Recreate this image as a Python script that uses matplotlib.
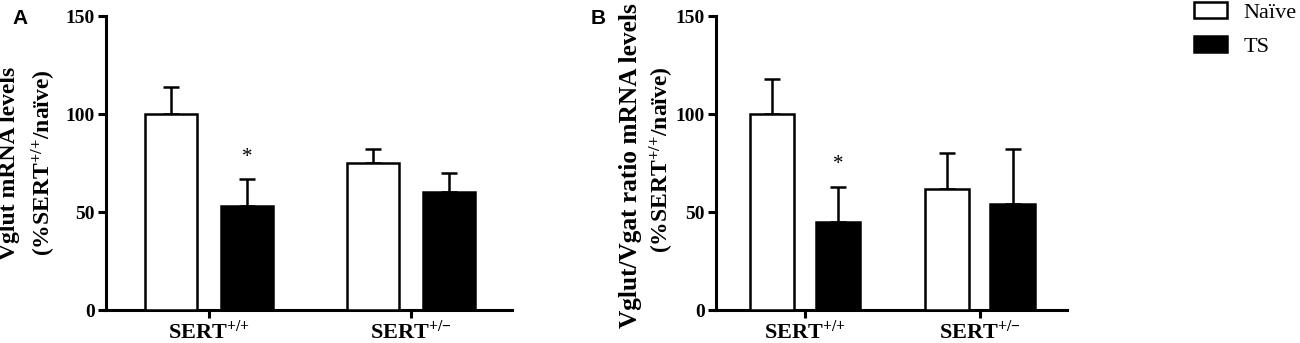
import numpy as np
import matplotlib.pyplot as plt
from matplotlib.patches import Patch

plt.rcParams['font.family'] = ['Liberation Serif', 'DejaVu Serif']
plt.rcParams['font.weight'] = 'bold'
plt.rcParams['mathtext.fontset'] = 'custom'
plt.rcParams['mathtext.rm'] = 'Liberation Serif:bold'
plt.rcParams['mathtext.bf'] = 'Liberation Serif:bold'
plt.rcParams['mathtext.it'] = 'Liberation Serif:bold:italic'

# data
groups = ['SERT$^{{+}/{+}}$', 'SERT$^{{+}/{-}}$']
legend_labels = ['Naïve', 'TS']

vglut_naive = [100, 75]
vglut_naive_err = [14, 7]
vglut_ts = [53, 60]
vglut_ts_err = [14, 10]

ratio_naive = [100, 62]
ratio_naive_err = [18, 18]
ratio_ts = [45, 54]
ratio_ts_err = [18, 28]

yticks = [0, 50, 100, 150]
LW = 2.2


def draw_panel(ax, naive, naive_err, ts, ts_err, width):
    x = np.arange(len(groups))
    off = 0.188
    ax.bar(x - off, naive, width, color='white', edgecolor='black', linewidth=1.8, zorder=3)
    ax.bar(x + off, ts, width, color='black', edgecolor='black', linewidth=1.8, zorder=3)
    ax.errorbar(x - off, naive, yerr=[np.zeros(len(naive)), naive_err], fmt='none',
                ecolor='black', elinewidth=1.8, capsize=6, capthick=1.8, zorder=2)
    ax.errorbar(x + off, ts, yerr=[np.zeros(len(ts)), ts_err], fmt='none',
                ecolor='black', elinewidth=1.8, capsize=6, capthick=1.8, zorder=2)
    # significance star over TS in SERT+/+
    ax.text(x[0] + off, ts[0] + ts_err[0] + 11, '*', ha='center', va='center',
            fontsize=15, fontweight='normal')
    ax.set_ylim(0, 150)
    ax.set_xlim(-0.51, 1.5)
    ax.set_yticks(yticks)
    ax.set_yticklabels([str(t) for t in yticks], fontsize=14, fontweight='bold')
    ax.set_xticks(x)
    ax.set_xticklabels(groups, fontsize=16, fontweight='bold')
    for s in ['top', 'right']:
        ax.spines[s].set_visible(False)
    for s in ['left', 'bottom']:
        ax.spines[s].set_linewidth(LW)
    ax.tick_params(axis='y', direction='out', length=6, width=LW, pad=2)
    ax.tick_params(axis='x', direction='out', length=6, width=LW, pad=1.5)


fig = plt.figure(figsize=(13, 3.43), dpi=100)

axA = fig.add_axes([0.0815, 0.0962, 0.3123, 0.857])
draw_panel(axA, vglut_naive, vglut_naive_err, vglut_ts, vglut_ts_err, 0.26)

axB = fig.add_axes([0.5508, 0.0962, 0.270, 0.857])
draw_panel(axB, ratio_naive, ratio_naive_err, ratio_ts, ratio_ts_err, 0.253)

# y labels (two lines each)
fig.text(10 / 1300, 1 - 163 / 343, 'Vglut mRNA levels', rotation=90,
         ha='center', va='center', fontsize=17, fontweight='bold')
fig.text(44 / 1300, 1 - 163 / 343, '(%SERT$^{{+}/{+}}$/naïve)', rotation=90,
         ha='center', va='center', fontsize=17, fontweight='bold')
fig.text(630 / 1300, 1 - 166 / 343, 'Vglut/Vgat ratio mRNA levels', rotation=90,
         ha='center', va='center', fontsize=18.3, fontweight='bold')
fig.text(662 / 1300, 1 - 160 / 343, '(%SERT$^{{+}/{+}}$/naïve)', rotation=90,
         ha='center', va='center', fontsize=17, fontweight='bold')

# panel letters
fig.text(20 / 1300, 1 - 19 / 343, 'A', ha='center', va='center',
         fontsize=15, fontweight='bold', family='Liberation Sans')
fig.text(598 / 1300, 1 - 19 / 343, 'B', ha='center', va='center',
         fontsize=15, fontweight='bold', family='Liberation Sans')

handles = [Patch(facecolor='white', edgecolor='black', linewidth=1.8),
           Patch(facecolor='black', edgecolor='black', linewidth=1.8)]
fig.legend(handles, legend_labels, loc='upper left', bbox_to_anchor=(1194 / 1300, 1 - 2 / 343),
           frameon=False, prop={'family': 'Liberation Serif', 'weight': 'normal', 'size': 16},
           handlelength=1.5, handleheight=0.72, labelspacing=0.6, handletextpad=0.72,
           borderaxespad=0, borderpad=0)

fig.savefig('out.png', dpi=100)
